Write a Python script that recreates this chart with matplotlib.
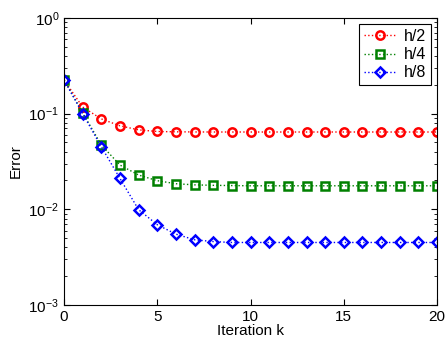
import numpy as np
import matplotlib
matplotlib.use("Agg")
import matplotlib.pyplot as plt

plt.rcParams['font.family'] = ['Liberation Sans', 'DejaVu Sans']

k = np.arange(0, 21)
err_h2 = [0.225, 0.117, 0.088, 0.0745, 0.0676, 0.0650, 0.0645, 0.0643, 0.0642, 0.0642, 0.0642,
          0.0642, 0.0642, 0.0642, 0.0642, 0.0642, 0.0642, 0.0642, 0.0642, 0.0642, 0.0642]
err_h4 = [0.225, 0.102, 0.047, 0.029, 0.0228, 0.0199, 0.0185, 0.0180, 0.0178, 0.0177, 0.0176,
          0.0176, 0.0176, 0.0176, 0.0176, 0.0176, 0.0176, 0.0176, 0.0176, 0.0176, 0.0176]
err_h8 = [0.225, 0.1, 0.045, 0.021, 0.0099, 0.0069, 0.0055, 0.0048, 0.0046, 0.0045, 0.0045,
          0.0045, 0.0045, 0.0045, 0.0045, 0.0045, 0.0045, 0.0045, 0.0045, 0.0045, 0.0045]

fig = plt.figure(figsize=(4.46, 3.44), dpi=100)
ax = fig.add_axes([0.1435, 0.1134, 0.8365, 0.8346])

ax.semilogy(k, err_h2, ':', color='red', marker='o', mfc='none', mec='red', ms=6, mew=1.8, lw=1, label='h/2')
ax.semilogy(k, err_h4, ':', color='green', marker='s', mfc='none', mec='green', ms=5.5, mew=1.8, lw=1, label='h/4')
ax.semilogy(k, err_h8, ':', color='blue', marker='D', mfc='none', mec='blue', ms=5.5, mew=1.8, lw=1, label='h/8')

ax.set_xlim(0, 20)
ax.set_ylim(1e-3, 1)
ax.set_xticks([0, 5, 10, 15, 20])
ax.set_xlabel('Iteration k', fontsize=11, labelpad=0)
ax.set_ylabel('Error', fontsize=11)
ax.tick_params(which='both', direction='in', top=True, right=True, labelsize=11)
ax.tick_params(which='major', length=4)
ax.tick_params(which='minor', length=2)
for s in ax.spines.values():
    s.set_linewidth(0.8)

leg = ax.legend(loc='upper right', fontsize=11.5, fancybox=False, framealpha=1,
                edgecolor='black', borderaxespad=0.4, handlelength=2.0,
                labelspacing=0.2, borderpad=0.3, handletextpad=0.5)
leg.get_frame().set_linewidth(0.8)

fig.savefig('out.png', dpi=100)
